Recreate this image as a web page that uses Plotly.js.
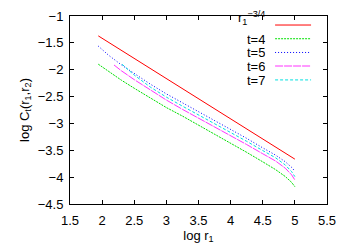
<!DOCTYPE html>
<html>
<head>
<meta charset="utf-8">
<script src="https://cdn.plot.ly/plotly-3.0.1.min.js"></script>
<style>html,body{margin:0;padding:0;background:#fff;}#chart{width:350px;height:245px;}</style>
</head>
<body>
<div id="chart"></div>
<script>
// Power law r1^-3/4 (straight line in log-log)
var xRef = [1.94, 5.0];
var yRef = [-1.37, -3.665];

// t=4
var xT4 = [1.94, 2.1, 2.3, 2.5, 2.75, 3.0, 3.25, 3.5, 3.75, 4.0, 4.25, 4.5, 4.7, 4.85, 4.95, 5.0];
var yT4 = [-1.897, -2.03, -2.195, -2.345, -2.528, -2.705, -2.863, -3.03, -3.193, -3.36, -3.538, -3.715, -3.86, -3.988, -4.098, -4.178];

// t=5
var xT5 = [1.94, 2.1, 2.3, 2.5, 2.75, 3.0, 3.25, 3.5, 3.75, 4.0, 4.25, 4.5, 4.7, 4.85, 4.95, 5.0];
var yT5 = [-1.56, -1.73, -1.91, -2.075, -2.268, -2.45, -2.613, -2.775, -2.938, -3.105, -3.278, -3.455, -3.59, -3.713, -3.818, -3.89];

// t=6
var xT6 = [2.185, 2.3, 2.5, 2.75, 3.0, 3.25, 3.5, 3.75, 4.0, 4.25, 4.5, 4.7, 4.85, 4.95, 5.0];
var yT6 = [-1.912, -2.02, -2.185, -2.378, -2.565, -2.738, -2.90, -3.063, -3.225, -3.393, -3.565, -3.70, -3.833, -3.958, -4.053];

// t=7
var xT7 = [2.31, 2.5, 2.75, 3.0, 3.25, 3.5, 3.75, 4.0, 4.25, 4.5, 4.7, 4.85, 4.95, 5.0];
var yT7 = [-1.898, -2.10, -2.323, -2.51, -2.678, -2.84, -3.003, -3.165, -3.333, -3.505, -3.64, -3.773, -3.898, -3.99];

var xTickVals = [1.5, 2, 2.5, 3, 3.5, 4, 4.5, 5, 5.5];
var xTickText = ["1.5", "2", "2.5", "3", "3.5", "4", "4.5", "5", "5.5"];
var yTickVals = [-1, -1.5, -2, -2.5, -3, -3.5, -4, -4.5];
var yTickText = ["\u22121", "\u22121.5", "\u22122", "\u22122.5", "\u22123", "\u22123.5", "\u22124", "\u22124.5"];

var seriesNames = ["r<sub>1</sub><sup>\u22123/4</sup>", "t=4", "t=5", "t=6", "t=7"];
var seriesColors = ["#ff0000", "#00e000", "#0000ff", "#ff33ff", "#00e0e0"];
var seriesDash = ["solid", "2px,1px", "1px,2px", "8px,1px", "3px,2px"];

var xs = [xRef, xT4, xT5, xT6, xT7];
var ys = [yRef, yT4, yT5, yT6, yT7];

var FONT = 'Liberation Sans, Arial, sans-serif';

var traces = xs.map(function (x, i) {
  return {
    x: x, y: ys[i], mode: 'lines', name: seriesNames[i],
    line: {color: seriesColors[i], width: 1, dash: seriesDash[i]},
    showlegend: false, hoverinfo: 'skip'
  };
});

// gnuplot-style key: right-aligned text, sample line to its right
var rowY = [0.952, 0.879, 0.806, 0.734, 0.660];
var annotations = [];
var shapes = [];
seriesNames.forEach(function (n, i) {
  var a = {
    xref: 'paper', yref: 'paper', x: 0.763, y: rowY[i],
    xanchor: 'right', yanchor: 'middle', text: n, showarrow: false,
    borderpad: 0, valign: 'middle',
    font: {family: FONT, size: 13, color: '#000'}
  };
  if (i === 0) { a.y = 0.992; } else { a.height = 10; }
  annotations.push(a);
  shapes.push({
    type: 'line', xref: 'paper', yref: 'paper',
    x0: 0.798, x1: 0.938, y0: rowY[i], y1: rowY[i],
    line: {color: seriesColors[i], width: 1, dash: seriesDash[i]}
  });
});

var axisCommon = {
  showgrid: false, zeroline: false, showline: true, linecolor: '#000', linewidth: 1,
  mirror: 'allticks', ticks: 'inside', ticklen: 4, tickcolor: '#000', tickwidth: 1,
  tickfont: {family: FONT, size: 13, color: '#000'},
  tickmode: 'array'
};

var layout = {
  width: 350, height: 245,
  margin: {l: 70, r: 23, t: 16, b: 41, pad: 0},
  paper_bgcolor: '#fff', plot_bgcolor: '#fff',
  showlegend: false,
  xaxis: Object.assign({}, axisCommon, {
    range: [1.5, 5.5], tickvals: xTickVals, ticktext: xTickText,
    ticklabelstandoff: 4,
    title: {text: 'log r<sub>1</sub>', standoff: 2,
      font: {family: FONT, size: 13, color: '#000'}}
  }),
  yaxis: Object.assign({}, axisCommon, {
    range: [-4.5, -1], tickvals: yTickVals, ticktext: yTickText,
    ticklabelstandoff: 3,
    title: {text: 'log C<sub>t</sub>(r<sub>1</sub>,r<sub>2</sub>)', standoff: 5,
      font: {family: FONT, size: 13, color: '#000'}}
  }),
  annotations: annotations,
  shapes: shapes
};

Plotly.newPlot('chart', traces, layout, {staticPlot: true, displayModeBar: false});
</script>
</body>
</html>
